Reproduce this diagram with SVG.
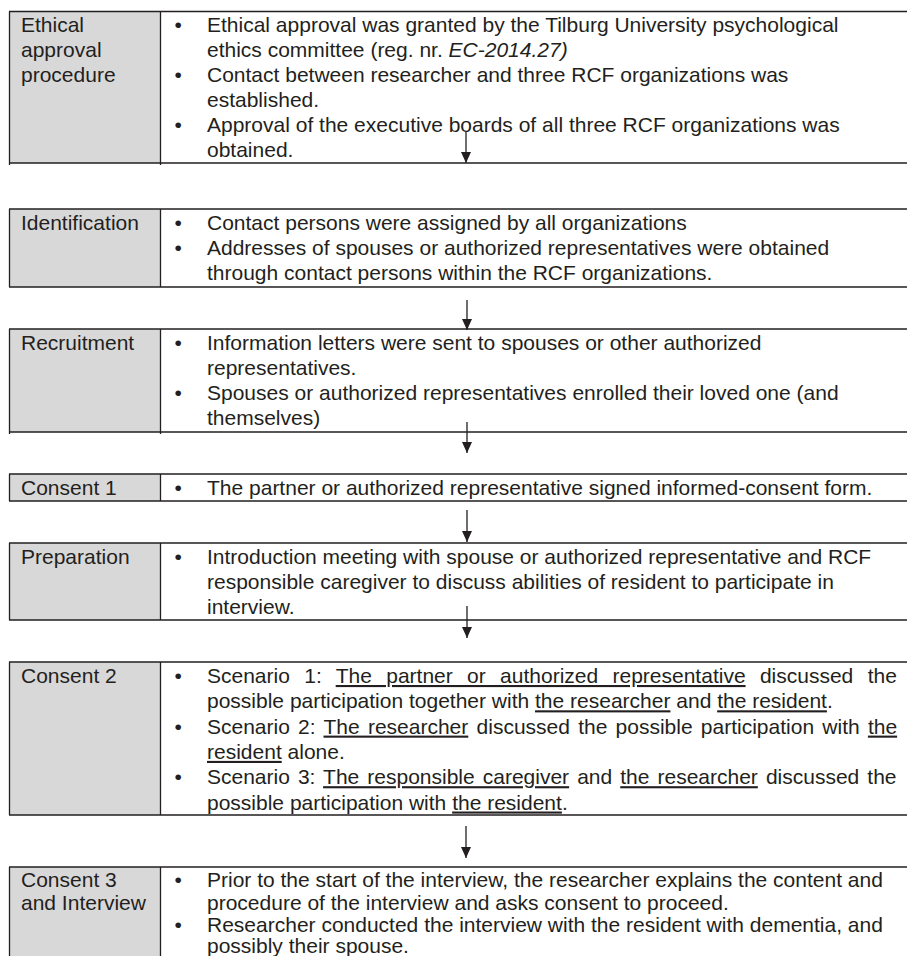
<svg xmlns="http://www.w3.org/2000/svg" width="907" height="956" viewBox="0 0 907 956">
<defs>
<style>
.t{font-family:"Liberation Sans",Arial,Helvetica,sans-serif;font-size:21px;fill:#231f20}
.i{font-style:italic}
.u{text-decoration:underline}
.lab{fill:#d8d8d9;stroke:none}
.brd{fill:none;stroke:#231f20;stroke-width:1.3}
.arr{stroke:#231f20;stroke-width:1.3;fill:none;marker-end:url(#ah)}
</style>
<marker id="ah" markerUnits="userSpaceOnUse" markerWidth="12" markerHeight="11" refX="11" refY="5" orient="auto">
<path d="M0,0 L11,5 L0,10 z" fill="#231f20"/>
</marker>
</defs>
<rect width="907" height="956" fill="#ffffff"/>

<g id="ethical">
<rect class="lab" x="9.5" y="11.5" width="151" height="151.5"/>
<path class="brd" d="M9,11.5 H907 M9,163 H907 M9.5,11.5 V165 M160.5,11.5 V165"/>
<text class="t" x="21" y="31.7">Ethical</text>
<text class="t" x="21" y="56.7">approval</text>
<text class="t" x="21" y="81.7">procedure</text>
<text class="t" x="174.5" y="31.7">•</text>
<text class="t" x="207" y="31.7">Ethical approval was granted by the Tilburg University psychological</text>
<text class="t" x="207" y="56.7">ethics committee (reg. nr. <tspan class="i">EC-2014.27)</tspan></text>
<text class="t" x="174.5" y="81.7">•</text>
<text class="t" x="207" y="81.7">Contact between researcher and three RCF organizations was</text>
<text class="t" x="207" y="106.7">established.</text>
<text class="t" x="174.5" y="131.7">•</text>
<text class="t" x="207" y="131.7">Approval of the executive boards of all three RCF organizations was</text>
<text class="t" x="207" y="156.7">obtained.</text>
</g>

<g id="identification">
<rect class="lab" x="9.5" y="209" width="151" height="78"/>
<path class="brd" d="M9,209 H907 M9,287 H907 M9.5,209 V287 M160.5,209 V287"/>
<text class="t" x="21" y="229.5">Identification</text>
<text class="t" x="174.5" y="229.5">•</text>
<text class="t" x="207" y="229.5">Contact persons were assigned by all organizations</text>
<text class="t" x="174.5" y="254.7">•</text>
<text class="t" x="207" y="254.7">Addresses of spouses or authorized representatives were obtained</text>
<text class="t" x="207" y="279.9">through contact persons within the RCF organizations.</text>
</g>

<g id="recruitment">
<rect class="lab" x="9.5" y="329" width="151" height="103"/>
<path class="brd" d="M9,329 H907 M9,432 H907 M9.5,329 V434 M160.5,329 V434"/>
<text class="t" x="21" y="349.5">Recruitment</text>
<text class="t" x="174.5" y="349.5">•</text>
<text class="t" x="207" y="349.5">Information letters were sent to spouses or other authorized</text>
<text class="t" x="207" y="374.8">representatives.</text>
<text class="t" x="174.5" y="400.1">•</text>
<text class="t" x="207" y="400.1">Spouses or authorized representatives enrolled their loved one (and</text>
<text class="t" x="207" y="425.4">themselves)</text>
</g>

<g id="consent1">
<rect class="lab" x="9.5" y="474" width="151" height="27"/>
<path class="brd" d="M9,474 H907 M9,501 H907 M9.5,474 V501 M160.5,474 V501"/>
<text class="t" x="21" y="494.5">Consent 1</text>
<text class="t" x="174.5" y="494.5">•</text>
<text class="t" x="207" y="494.5">The partner or authorized representative signed informed-consent form.</text>
</g>

<g id="preparation">
<rect class="lab" x="9.5" y="543" width="151" height="77"/>
<path class="brd" d="M9,543 H907 M9,620 H907 M9.5,543 V620 M160.5,543 V620"/>
<text class="t" x="21" y="563.5">Preparation</text>
<text class="t" x="174.5" y="563.5">•</text>
<text class="t" x="207" y="563.5">Introduction meeting with spouse or authorized representative and RCF</text>
<text class="t" x="207" y="588.8">responsible caregiver to discuss abilities of resident to participate in</text>
<text class="t" x="207" y="614.1">interview.</text>
</g>

<g id="consent2">
<rect class="lab" x="9.5" y="662" width="151" height="153"/>
<path class="brd" d="M9,662 H907 M9,815 H907 M9.5,662 V815 M160.5,662 V815"/>
<text class="t" x="21" y="683">Consent 2</text>
<text class="t" x="174.5" y="683">•</text>
<text class="t" x="207" y="683" word-spacing="8.5">Scenario 1: <tspan class="u">The partner or authorized representative</tspan> discussed the</text>
<text class="t" x="207" y="708.3">possible participation together with <tspan class="u">the researcher</tspan> and <tspan class="u">the resident</tspan>.</text>
<text class="t" x="174.5" y="733.6">•</text>
<text class="t" x="207" y="733.6" word-spacing="2.4">Scenario 2: <tspan class="u">The researcher</tspan> discussed the possible participation with <tspan class="u">the</tspan></text>
<text class="t" x="207" y="758.9"><tspan class="u">resident</tspan> alone.</text>
<text class="t" x="174.5" y="784.2">•</text>
<text class="t" x="207" y="784.2" word-spacing="2.2">Scenario 3: <tspan class="u">The responsible caregiver</tspan> and <tspan class="u">the researcher</tspan> discussed the</text>
<text class="t" x="207" y="809.5">possible participation with <tspan class="u">the resident</tspan>.</text>
</g>

<g id="consent3">
<rect class="lab" x="9.5" y="867" width="151" height="89"/>
<path class="brd" d="M9,867 H907 M9.5,867 V956 M160.5,867 V956"/>
<text class="t" x="21" y="887">Consent 3</text>
<text class="t" x="21" y="909.5">and Interview</text>
<text class="t" x="174.5" y="887">•</text>
<text class="t" x="207" y="887">Prior to the start of the interview, the researcher explains the content and</text>
<text class="t" x="207" y="909.5">procedure of the interview and asks consent to proceed.</text>
<text class="t" x="174.5" y="932">•</text>
<text class="t" x="207" y="932">Researcher conducted the interview with the resident with dementia, and</text>
<text class="t" x="207" y="953">possibly their spouse.</text>
</g>

<g id="connectors">
<line class="arr" x1="466" y1="132" x2="466" y2="163"/>
<line class="arr" x1="467" y1="300" x2="467" y2="330"/>
<line class="arr" x1="467" y1="422" x2="467" y2="453"/>
<line class="arr" x1="467" y1="510" x2="467" y2="542"/>
<line class="arr" x1="467" y1="606" x2="467" y2="638"/>
<line class="arr" x1="466" y1="826" x2="466" y2="858"/>
</g>
</svg>
